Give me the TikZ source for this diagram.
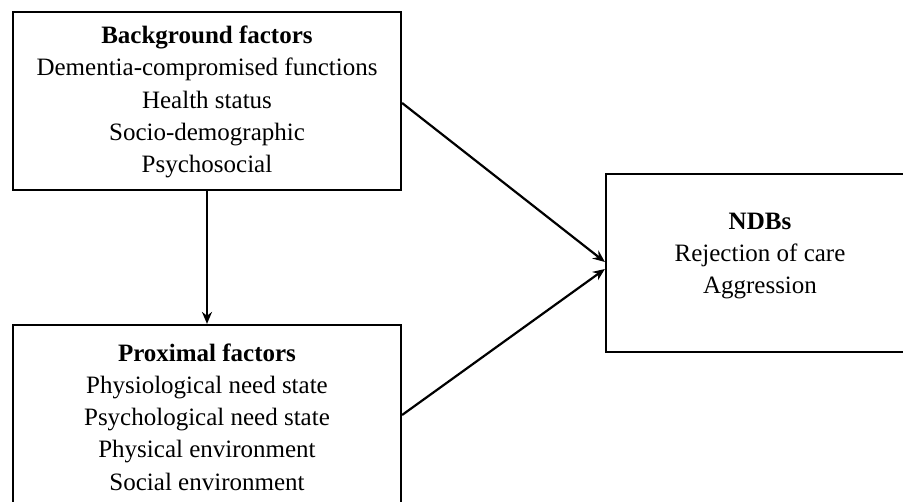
\documentclass[tikz,border=0pt]{standalone}
\usepackage{fontspec}
\setmainfont{Liberation Serif}
\usetikzlibrary{arrows.meta}
\begin{document}
\begin{tikzpicture}[x=1pt,y=-1pt,
  factorbox/.style={draw, line width=2.2pt, rectangle, inner sep=0pt},
  boxtext/.style={align=center, inner sep=0pt,
    font=\fontsize{25}{32.2}\selectfont},
  link/.style={line width=2.2pt, -{Stealth[length=12pt,width=10pt]}}]
\useasboundingbox (0,0) rectangle (903,502);
\clip (0,0) rectangle (903,502);
% boxes
\node[factorbox, minimum width=388pt, minimum height=178pt] (bg) at (207,101) {};
\node[factorbox, minimum width=388pt, minimum height=186pt] (prox) at (207,418) {};
\node[factorbox, minimum width=310pt, minimum height=178pt] (ndb) at (761,263) {};
% box contents
\node[boxtext] (bgtext) at (207,102) {\textbf{Background factors}\\Dementia-compromised functions\\Health status\\Socio-demographic\\Psychosocial};
\node[boxtext] (proxtext) at (207,417) {\textbf{Proximal factors}\\Physiological need state\\Psychological need state\\Physical environment\\Social environment};
\node[boxtext] (ndbtext) at (760,256) {\textbf{NDBs}\\Rejection of care\\Aggression};
% connectors
\draw[link] (bg.south) -- (prox.north);
\draw[link] ([yshift=-2pt]bg.east) -- ([yshift=1pt]ndb.west);
\draw[link] ([yshift=3pt]prox.east) -- ([yshift=-6pt]ndb.west);
\end{tikzpicture}
\end{document}
